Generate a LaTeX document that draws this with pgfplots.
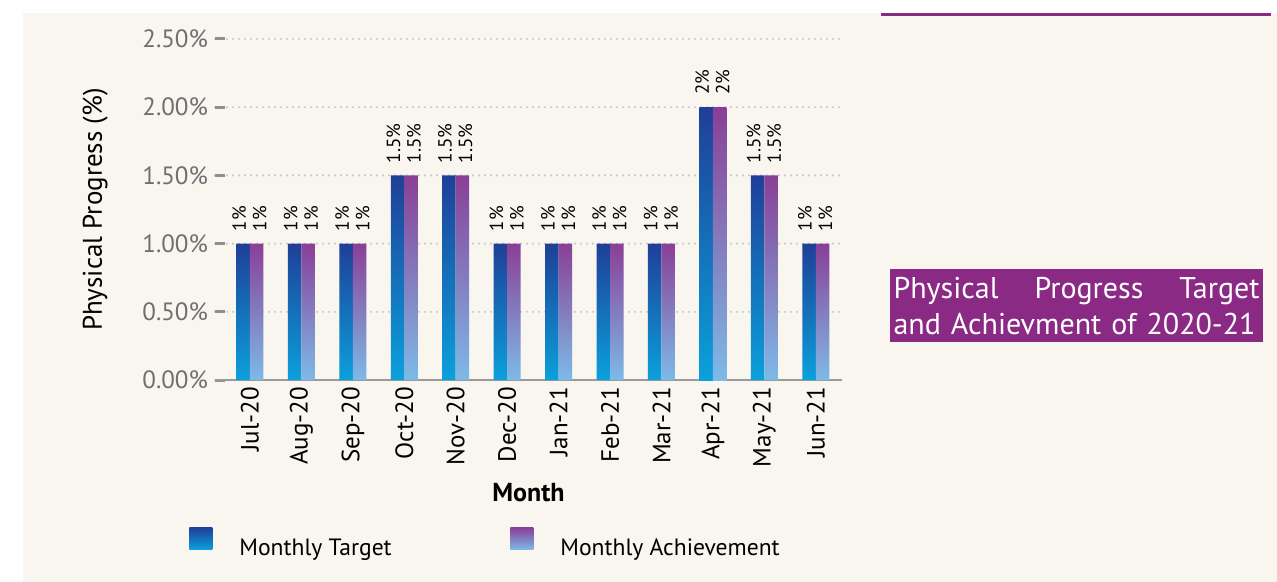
\documentclass[border=0pt]{standalone}
\usepackage{fontspec}
\setmainfont{PT Sans}
\usepackage{pgfplots}
\pgfplotsset{compat=1.18}

\definecolor{cream}{HTML}{F9F5EF}
\definecolor{boxpurple}{HTML}{8B2A84}
\definecolor{tgtTop}{HTML}{1F3F97}
\definecolor{tgtBot}{HTML}{0BA0DC}
\definecolor{achTop}{HTML}{8A3F97}
\definecolor{achBot}{HTML}{7DBAE7}
\definecolor{ticklab}{HTML}{6F6F72}
\definecolor{tickgray}{HTML}{8E8E90}
\definecolor{gridgray}{HTML}{CACACA}
\definecolor{axisgray}{HTML}{9A9A9A}

\pgfplotsset{
  sqlegend/.style={legend image code/.code={%
    \path[##1,draw=none] (0pt,-0.5pt) rectangle (11.5pt,10.5pt);
    \path (0pt,0pt) -- (25pt,0pt);}},
  % bars of one height share a plot, so each gets its own full gradient
  tgt/.style={draw=none, top color=tgtTop, bottom color=tgtBot, bar shift=-3.375pt,
    every node near coord/.append style={yshift=2pt}},
  ach/.style={draw=none, top color=achTop, bottom color=achBot, bar shift=3.375pt,
    every node near coord/.append style={yshift=-1.5pt}},
}

\begin{document}
\begin{tikzpicture}
% page frame in pixel units (1px = 0.5pt, y down)
\begin{scope}[x=0.5pt,y=-0.5pt]
\fill[white] (0,0) rectangle (1277,582);
\useasboundingbox (0,0) rectangle (1277,582);
\fill[cream] (23,13) rectangle (1277,582);
\fill[boxpurple] (881,13) rectangle (1271,16);
\fill[boxpurple] (890,269) rectangle (1263,342);
\node[text=white, font=\fontsize{15}{18}\selectfont, text width=183pt,
      align=left, inner sep=0pt] at (1076.5,306)
  {Physical\hspace{0pt plus 1fill}Progress\hspace{0pt plus 1fill}Target\\and Achievment of 2020-21};
\end{scope}

\begin{axis}[
  at={(107.5pt,-190pt)}, anchor=south west,
  scale only axis, width=313.5pt, height=170.5pt,
  xmin=-0.68, xmax=11.51, ymin=0, ymax=2.5,
  ybar=0pt, bar width=6.75pt,
  every axis plot post/.append style={sqlegend},
  axis x line*=bottom, axis y line*=left,
  y axis line style={draw=none},
  x axis line style={draw=axisgray, line width=1pt, -},
  xtick={0,...,11},
  xticklabels={Jul-20,Aug-20,Sep-20,Oct-20,Nov-20,Dec-20,Jan-21,Feb-21,Mar-21,Apr-21,May-21,Jun-21},
  x tick style={draw=none},
  xticklabel style={rotate=90, anchor=east, font=\fontsize{12.5}{14}\selectfont, text=black},
  ytick={0,0.5,1,1.5,2,2.5},
  yticklabels={0.00\%,0.50\%,1.00\%,1.50\%,2.00\%,2.50\%},
  yticklabel style={font=\fontsize{12.5}{14}\selectfont, text=ticklab},
  y tick style={draw=tickgray, line width=1.5pt},
  major tick length=5pt,
  tick align=inside,
  ymajorgrids,
  major grid style={draw=gridgray, line width=1.2pt, dash pattern=on 0pt off 3pt, line cap=round},
  ylabel={Physical Progress (\%)},
  ylabel style={at={(axis description cs:-0.191,0.5)}, anchor=center, font=\fontsize{13.5}{16}\selectfont},
  xlabel={Month},
  xlabel style={at={(axis description cs:0.5,-0.331)}, anchor=center, font=\bfseries\fontsize{13}{15}\selectfont},
  /pgf/number format/assume math mode=true,
  point meta=y,
  nodes near coords={\pgfmathprintnumber{\pgfplotspointmeta}\%},
  every node near coord/.append style={rotate=90, anchor=west, font=\fontsize{9.5}{11}\selectfont, text=black, inner xsep=6pt},
  legend columns=2,
  legend cell align=left,
  legend style={at={(axis description cs:-0.0415,-0.478)}, anchor=west, draw=none, fill=none,
    inner sep=0pt, nodes={inner sep=0pt}, font=\fontsize{11.8}{14}\selectfont},
  clip=false,
]
% Monthly Target
\addplot[tgt] coordinates {(0,1) (1,1) (2,1) (5,1) (6,1) (7,1) (8,1) (11,1)};
% Monthly Achievement
\addplot[ach] coordinates {(0,1) (1,1) (2,1) (5,1) (6,1) (7,1) (8,1) (11,1)};
\addplot[tgt, forget plot] coordinates {(3,1.5) (4,1.5) (10,1.5)};
\addplot[ach, forget plot] coordinates {(3,1.5) (4,1.5) (10,1.5)};
\addplot[tgt, forget plot] coordinates {(9,2)};
\addplot[ach, forget plot] coordinates {(9,2)};
\legend{\makebox[135.5pt][l]{Monthly Target},Monthly Achievement}
\end{axis}
\end{tikzpicture}
\end{document}
